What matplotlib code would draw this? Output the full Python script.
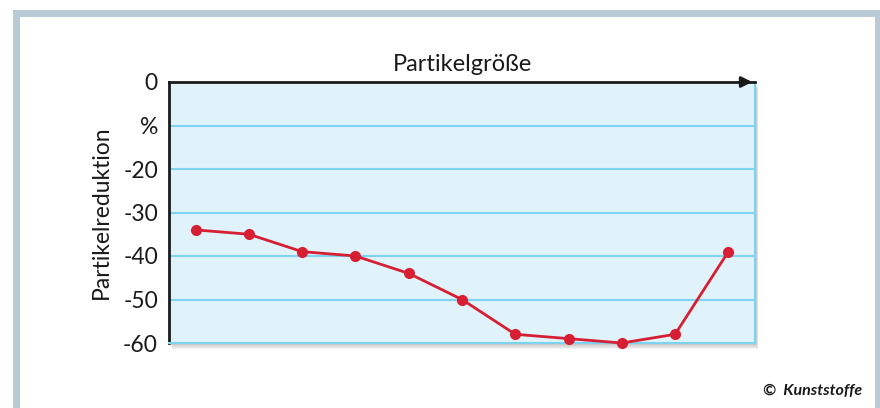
import matplotlib.pyplot as plt
import matplotlib.patches as patches

# data
steps = list(range(11))
reduction = [-34, -35, -39, -40, -44, -50, -58, -59, -60, -58, -39]
yticks = [0, -10, -20, -30, -40, -50, -60]
ylabels = ['0', '%', '-20', '-30', '-40', '-50', '-60']

plt.rcParams['font.family'] = ['Lato', 'DejaVu Sans']

fig = plt.figure(figsize=(8.8, 4.08), dpi=100)
W, H = 880, 408

# grey frame around the figure
frame_col = '#b9cad4'
fig.patches.append(patches.Rectangle((0, 0), 1, 1, transform=fig.transFigure,
                                     facecolor=frame_col, zorder=-10))
fig.patches.append(patches.Rectangle((20 / W, 0), (875 - 20) / W, (408 - 17) / H,
                                     transform=fig.transFigure,
                                     facecolor='white', zorder=-9))
fig.patches.append(patches.Rectangle((0, 0), 13 / W, 1, transform=fig.transFigure,
                                     facecolor='white', zorder=-9))
fig.patches.append(patches.Rectangle((0, 1 - 10 / H), 1, 10 / H, transform=fig.transFigure,
                                     facecolor='white', zorder=-9))

l, r, t, b = 169, 755, 82, 343
ax = fig.add_axes([l / W, 1 - b / H, (r - l) / W, (b - t) / H])

# soft drop shadow behind plot area
for k in range(1, 7):
    fig.patches.append(patches.Rectangle(((l + 1 + k * 0.4) / W, 1 - (b + k) / H),
                                         (r - l) / W, (b - t) / H,
                                         transform=fig.transFigure, facecolor='#606060',
                                         edgecolor='none', alpha=0.07, zorder=-5))

ax.set_facecolor('#e0f2fa')
ax.set_xlim(-0.5, 10.5)
ax.set_ylim(-60, 0)
ax.set_yticks(yticks)
ax.set_yticklabels(ylabels)
ax.set_xticks([])
ax.tick_params(axis='y', length=0, pad=8, labelsize=16.5, labelcolor='#1a1a1a')

for y in [-10, -20, -30, -40, -50]:
    ax.axhline(y, color='#7dd3f0', lw=1.5, zorder=1)

ax.spines['left'].set_color('#1a1a1a')
ax.spines['left'].set_linewidth(2)
ax.spines['top'].set_color('#1a1a1a')
ax.spines['top'].set_linewidth(2)
ax.spines['right'].set_color('#7dd3f0')
ax.spines['right'].set_linewidth(1.5)
ax.spines['bottom'].set_color('#7dd3f0')
ax.spines['bottom'].set_linewidth(1.5)

# arrow on the top axis
ax.annotate('', xy=(1.0, 1.0), xytext=(0.97, 1.0), xycoords='axes fraction',
            arrowprops=dict(arrowstyle='-|>', color='#1a1a1a', lw=2, mutation_scale=16),
            annotation_clip=False)

ax.plot(steps, reduction, color='#d71f34', lw=2, marker='o', markersize=7, zorder=3, clip_on=False)

ax.set_title('Partikelgröße', fontsize=17, pad=8, color='#1a1a1a')
ax.set_ylabel('Partikelreduktion', fontsize=16.5, labelpad=8, color='#1a1a1a')

fig.text(862 / W, 1 - 391 / H, '©  Kunststoffe', ha='right', va='center', fontsize=11.5,
         fontweight='bold', fontstyle='italic', color='#1a1a1a')

fig.savefig('out.png', dpi=100)
